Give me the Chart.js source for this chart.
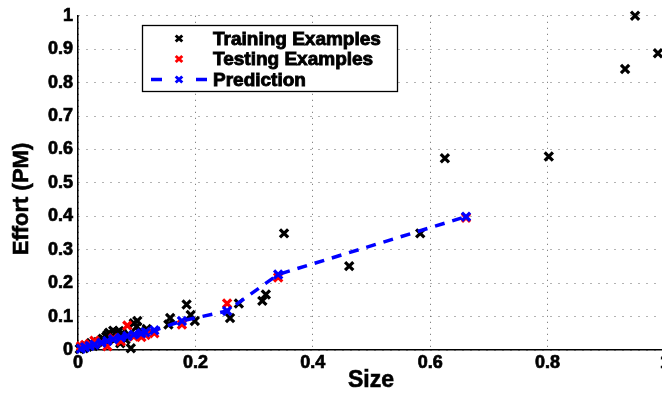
<!DOCTYPE html>
<html><head><meta charset="utf-8">
<script src="https://cdn.jsdelivr.net/npm/chart.js@4.4.1/dist/chart.umd.min.js"></script>
<style>
html,body{margin:0;padding:0;background:#fff;overflow:hidden;width:662px;height:396px}
#wrap{position:absolute;left:0;top:0;width:680px;height:396px}
</style>
</head><body>
<div id="wrap"><canvas id="c" width="680" height="396"></canvas></div>
<script>
// ---- data ----
const trainX = [0.003,0.006,0.010,0.013,0.016,0.020,0.022,0.026,0.030,0.034,0.039,0.042,0.045,0.048,0.050,0.053,0.056,0.060,0.062,0.065,0.067,0.070,0.072,0.075,0.078,0.081,0.087,0.090,0.095,0.100,0.101,0.105,0.117,0.154,0.157,0.185,0.192,0.199,0.259,0.274,0.314,0.320,0.351,0.462,0.583,0.625,0.802,0.932,0.949,0.988];
const trainY = [0.003,0.008,0.005,0.013,0.010,0.016,0.021,0.012,0.018,0.024,0.026,0.034,0.030,0.040,0.045,0.052,0.036,0.058,0.031,0.046,0.053,0.057,0.020,0.050,0.040,0.031,0.045,0.005,0.080,0.070,0.087,0.055,0.063,0.076,0.096,0.136,0.105,0.087,0.096,0.139,0.147,0.166,0.349,0.251,0.349,0.574,0.579,0.841,1.000,0.888];
const testX  = [0.005,0.012,0.020,0.028,0.040,0.050,0.060,0.073,0.084,0.095,0.108,0.115,0.130,0.177,0.254,0.341,0.661];
const testY  = [0.011,0.015,0.018,0.028,0.022,0.011,0.035,0.026,0.073,0.040,0.039,0.045,0.050,0.076,0.139,0.217,0.396];
const predY  = [0.004,0.008,0.012,0.016,0.022,0.027,0.032,0.037,0.042,0.046,0.050,0.053,0.059,0.087,0.117,0.226,0.399];
const xTickLabels = ['0','0.2','0.4','0.6','0.8','1'];
const yTickLabels = ['0','0.1','0.2','0.3','0.4','0.5','0.6','0.7','0.8','0.9','1'];
const seriesNames = ['Training Examples','Testing Examples','Prediction'];
const xTitle = 'Size';
const yTitle = 'Effort (PM)';

const toPts = (xs, ys) => xs.map((x, i) => ({x: x, y: ys[i]}));
const FONT = '"Liberation Sans", Arial, Helvetica, sans-serif';

const overlayPlugin = {
  id: 'matlabOverlay',
  afterDraw(chart) {
    const ctx = chart.ctx;
    const area = chart.chartArea;
    // axis titles
    ctx.save();
    ctx.font = 'bold 23px ' + FONT;
    ctx.textAlign = 'center';
    ctx.textBaseline = 'middle';
    ctx.fillStyle = '#000';
    ctx.strokeStyle = '#000';
    ctx.lineWidth = 0.6;
    ctx.fillText(xTitle, 371, 381);
    ctx.strokeText(xTitle, 371, 381);
    ctx.translate(22, 199);
    ctx.rotate(-Math.PI / 2);
    ctx.font = 'bold 22px ' + FONT;
    ctx.fillText(yTitle, 0, 0);
    ctx.strokeText(yTitle, 0, 0);
    ctx.restore();

    // legend
    ctx.save();
    const bx = 142, by = 25, bw = 255, bh = 66;
    ctx.fillStyle = '#fff';
    ctx.fillRect(bx, by, bw, bh);
    ctx.strokeStyle = '#000';
    ctx.lineWidth = 1.3;
    ctx.strokeRect(bx + 0.5, by + 0.5, bw, bh);
    const rows = [38.5, 59, 79.5];
    const cols = ['#000', '#ff0000', '#0000ff'];
    const cross = (x, y, c) => {
      ctx.strokeStyle = c; ctx.lineWidth = 3;
      ctx.beginPath();
      ctx.moveTo(x - 3.3, y - 3); ctx.lineTo(x + 3.3, y + 3);
      ctx.moveTo(x - 3.3, y + 3); ctx.lineTo(x + 3.3, y - 3);
      ctx.stroke();
    };
    cross(179, rows[0], cols[0]);
    cross(179, rows[1], cols[1]);
    ctx.strokeStyle = cols[2]; ctx.lineWidth = 3.5;
    ctx.beginPath();
    ctx.moveTo(151, rows[2]); ctx.lineTo(162, rows[2]);
    ctx.moveTo(196, rows[2]); ctx.lineTo(207, rows[2]);
    ctx.stroke();
    cross(179, rows[2], cols[2]);
    ctx.fillStyle = '#000';
    ctx.strokeStyle = '#000';
    ctx.lineWidth = 0.9;
    ctx.font = 'bold 19px ' + FONT;
    ctx.textBaseline = 'middle';
    ctx.textAlign = 'left';
    seriesNames.forEach((t, i) => { ctx.fillText(t, 213, rows[i] + 1); ctx.strokeText(t, 213, rows[i] + 1); });
    ctx.restore();
  }
};

new Chart(document.getElementById('c'), {
  type: 'scatter',
  data: {
    datasets: [
      {
        label: seriesNames[0], data: toPts(trainX, trainY), order: 3,
        pointStyle: 'crossRot', pointRadius: 5.8, pointBorderWidth: 3.2,
        borderColor: '#000', backgroundColor: '#000', showLine: false
      },
      {
        label: seriesNames[1], data: toPts(testX, testY), order: 2,
        pointStyle: 'crossRot', pointRadius: 5.8, pointBorderWidth: 3.2,
        borderColor: '#ff0000', backgroundColor: '#ff0000', showLine: false
      },
      {
        label: seriesNames[2], data: toPts(testX, predY), order: 1,
        type: 'line', showLine: true, tension: 0, fill: false,
        borderColor: '#0000ff', backgroundColor: '#0000ff', borderWidth: 3.5,
        borderDash: [10, 8],
        pointStyle: 'crossRot', pointRadius: 5.8, pointBorderWidth: 3.2,
        pointBorderColor: '#0000ff'
      }
    ]
  },
  options: {
    responsive: false,
    animation: false,
    devicePixelRatio: 1,
    clip: false,
    layout: { padding: { top: 13, right: 15, left: 0, bottom: 0 } },
    plugins: { legend: { display: false }, tooltip: { enabled: false } },
    scales: {
      x: {
        type: 'linear', min: 0, max: 1,
        afterFit(s) { s.height = 46; },
        afterBuildTicks(s) { s.ticks = xTickLabels.map(v => ({value: parseFloat(v)})); },
        ticks: {
          color: '#000', padding: 2, maxRotation: 0, autoSkip: false,
          textStrokeColor: '#000', textStrokeWidth: 0.7,
          font: { family: FONT, size: 18, weight: 'bold' },
          callback: (v) => xTickLabels.find(t => Math.abs(parseFloat(t) - v) < 1e-9) ?? ''
        },
        grid: { color: '#666', lineWidth: 1, drawTicks: false },
        border: { display: true, color: '#000', width: 1.5, dash: [1, 5] },
        title: { display: false, text: xTitle }
      },
      y: {
        type: 'linear', min: 0, max: 1,
        afterFit(s) { s.width = 78; },
        afterBuildTicks(s) { s.ticks = yTickLabels.map(v => ({value: parseFloat(v)})); },
        ticks: {
          color: '#000', padding: 5, autoSkip: false,
          textStrokeColor: '#000', textStrokeWidth: 0.7,
          font: { family: FONT, size: 18, weight: 'bold' },
          callback: (v) => yTickLabels.find(t => Math.abs(parseFloat(t) - v) < 1e-9) ?? ''
        },
        grid: { color: '#666', lineWidth: 1, drawTicks: false },
        border: { display: true, color: '#000', width: 1.5, dash: [1, 7] },
        title: { display: false, text: yTitle }
      }
    }
  },
  plugins: [overlayPlugin]
});
</script>
</body></html>
